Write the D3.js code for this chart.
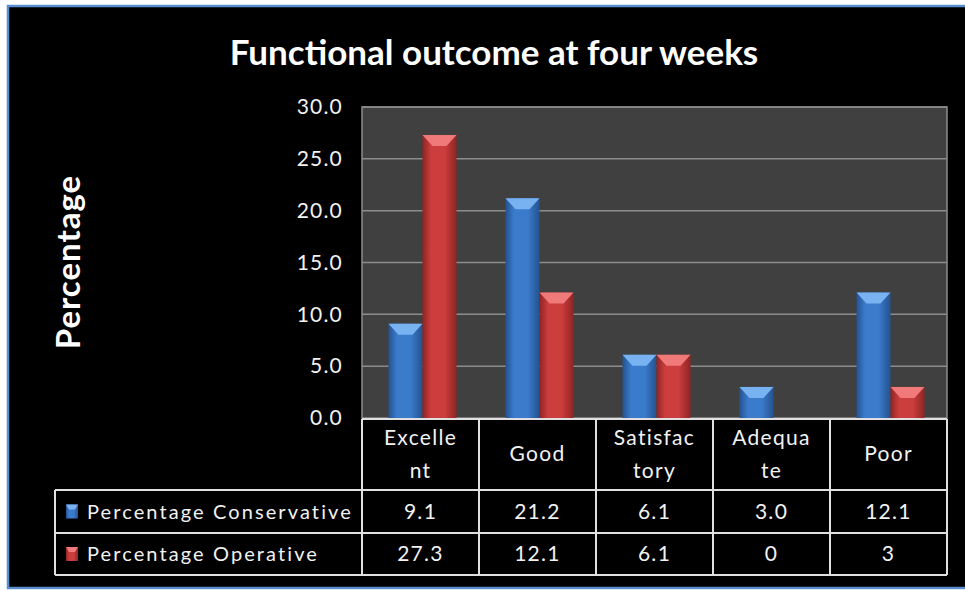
<!DOCTYPE html>
<html>
<head>
<meta charset="utf-8">
<script src="https://cdn.jsdelivr.net/npm/d3@7"></script>
<style>
  html, body { margin: 0; padding: 0; background: #fff; }
  svg { display: block; }
  text { font-family: Lato, 'Open Sans', sans-serif; fill: #f2f2f2; }
</style>
</head>
<body>
<svg id="chart" width="965" height="590"></svg>
<script>
// data
const categories = ['Excellent', 'Good', 'Satisfactory', 'Adequate', 'Poor']
const categoryLines = [['Excelle', 'nt'], ['Good'], ['Satisfac', 'tory'], ['Adequa', 'te'], ['Poor']]
const seriesNames = ['Percentage Conservative', 'Percentage Operative']
const conservative = [9.1, 21.2, 6.1, 3.0, 12.1]
const operative = [27.3, 12.1, 6.1, 0, 3]
const conservativeLabels = ['9.1', '21.2', '6.1', '3.0', '12.1']
const operativeLabels = ['27.3', '12.1', '6.1', '0', '3']
const yTicks = [0, 5, 10, 15, 20, 25, 30]

const width = 965
const height = 590

const plot = { left: 362, right: 947, top: 107, bottom: 418 }
const table = { left: 55, headerBottom: 490, row1Bottom: 533, bottom: 575 }

const colors = {
  [seriesNames[0]]: { base: '#3b7bcc', light: '#79b2f0', dark: '#24528f' },
  [seriesNames[1]]: { base: '#cc3d3d', light: '#f07a7a', dark: '#8f2424' },
}

const svg = d3.select('#chart')

// gradients for the bevelled bars
const defs = svg.append('defs')
seriesNames.forEach((s, i) => {
  const g = defs
    .append('linearGradient')
    .attr('id', 'grad' + i)
    .attr('x1', '0%')
    .attr('x2', '100%')
  g.append('stop').attr('offset', '0%').attr('stop-color', colors[s].dark)
  g.append('stop').attr('offset', '25%').attr('stop-color', colors[s].base)
  g.append('stop').attr('offset', '65%').attr('stop-color', colors[s].base)
  g.append('stop').attr('offset', '100%').attr('stop-color', colors[s].dark)
})

// background + frame
svg.append('rect').attr('width', width).attr('height', height).attr('fill', '#fff')
svg
  .append('rect')
  .attr('x', 8)
  .attr('y', 6)
  .attr('width', width + 10)
  .attr('height', 582)
  .attr('fill', '#000')
  .attr('stroke', '#5b8ed0')
  .attr('stroke-width', 2.5)

// title
svg
  .append('text')
  .attr('x', 494)
  .attr('y', 65)
  .attr('text-anchor', 'middle')
  .attr('font-size', 35)
  .attr('font-weight', 'bold')
  .style('fill', '#fff')
  .text('Functional outcome at four weeks')

// scales
const x0 = d3.scaleBand().domain(categories).range([plot.left, plot.right])
const x1 = d3
  .scaleBand()
  .domain(seriesNames)
  .range([2, x0.bandwidth() + 2])
  .paddingInner(0)
  .paddingOuter(0.72)
const y = d3.scaleLinear().domain([0, 30]).range([plot.bottom, plot.top])

// plot area
svg
  .append('rect')
  .attr('x', plot.left)
  .attr('y', plot.top)
  .attr('width', plot.right - plot.left)
  .attr('height', plot.bottom - plot.top)
  .attr('fill', '#404040')
  .attr('stroke', '#8c8c8c')
  .attr('stroke-width', 1.5)

// gridlines
svg
  .append('g')
  .attr('id', 'grid')
  .selectAll('line')
  .data(yTicks.slice(1))
  .join('line')
  .attr('x1', plot.left)
  .attr('x2', plot.right)
  .attr('y1', (d) => y(d))
  .attr('y2', (d) => y(d))
  .attr('stroke', '#8c8c8c')
  .attr('stroke-width', 1.5)

// y axis labels
const yAxis = svg
  .append('g')
  .attr('transform', `translate(${plot.left - 19},0)`)
  .call(d3.axisLeft(y).tickValues(yTicks).tickFormat(d3.format('.1f')).tickSize(0).tickPadding(0))
yAxis.select('.domain').remove()
yAxis
  .selectAll('text')
  .attr('font-size', 21)
  .attr('letter-spacing', 1.2)
  .attr('font-family', 'Lato, sans-serif')
  .style('fill', '#f2f2f2')

// y title
svg
  .append('text')
  .attr('transform', 'translate(80,262) rotate(-90)')
  .attr('text-anchor', 'middle')
  .attr('font-size', 33)
  .attr('font-weight', 'bold')
  .attr('letter-spacing', 1)
  .style('fill', '#fff')
  .text('Percentage')

// bars
const seriesValues = [conservative, operative]
const barGroups = svg
  .append('g')
  .attr('id', 'bars')
  .selectAll('g')
  .data(seriesNames)
  .join('g')

barGroups.each(function (s, si) {
  const g = d3.select(this)
  const rows = categories.map((c, i) => ({ c, v: seriesValues[si][i] })).filter((d) => d.v > 0)
  g.selectAll('rect')
    .data(rows)
    .join('rect')
    .attr('x', (d) => x0(d.c) + x1(s))
    .attr('y', (d) => y(d.v))
    .attr('width', x1.bandwidth())
    .attr('height', (d) => y(0) - y(d.v))
    .attr('fill', `url(#grad${si})`)
  // bevelled top
  g.selectAll('path')
    .data(rows)
    .join('path')
    .attr('d', (d) => {
      const bx = x0(d.c) + x1(s)
      const by = y(d.v)
      const w = x1.bandwidth()
      return `M${bx},${by}L${bx + w},${by}L${bx + w - 10},${by + 11}L${bx + 10},${by + 11}Z`
    })
    .attr('fill', colors[s].light)
})

// data table
const tableG = svg.append('g').attr('id', 'table')
const lineColor = '#e0e0e0'
const hline = (x1p, x2p, yp) =>
  tableG
    .append('line')
    .attr('x1', x1p)
    .attr('x2', x2p)
    .attr('y1', yp)
    .attr('y2', yp)
    .attr('stroke', lineColor)
    .attr('stroke-width', 2)
const vline = (xp, y1p, y2p) =>
  tableG
    .append('line')
    .attr('x1', xp)
    .attr('x2', xp)
    .attr('y1', y1p)
    .attr('y2', y2p)
    .attr('stroke', lineColor)
    .attr('stroke-width', 2)

hline(plot.left, plot.right, plot.bottom + 1)
hline(table.left, plot.right, table.headerBottom)
hline(table.left, plot.right, table.row1Bottom)
hline(table.left, plot.right, table.bottom)
vline(table.left, table.headerBottom, table.bottom)
categories.forEach((c) => vline(x0(c), plot.bottom + 1, table.bottom))
vline(plot.right, plot.bottom + 1, table.bottom)

// header labels
categories.forEach((c, i) => {
  const lines = categoryLines[i]
  const cy = (plot.bottom + table.headerBottom) / 2
  lines.forEach((l, li) => {
    tableG
      .append('text')
      .attr('x', x0(c) + x0.bandwidth() / 2)
      .attr('y', cy + (li - (lines.length - 1) / 2) * 33)
      .attr('dy', '0.35em')
      .attr('text-anchor', 'middle')
      .attr('font-size', 21)
      .attr('letter-spacing', 1.3)
      .text(l)
  })
})

// data rows
const rowLabels = [conservativeLabels, operativeLabels]
const rowCenters = [
  (table.headerBottom + table.row1Bottom) / 2,
  (table.row1Bottom + table.bottom) / 2,
]
seriesNames.forEach((s, si) => {
  const cy = rowCenters[si]
  tableG
    .append('rect')
    .attr('x', 66)
    .attr('y', cy - 7)
    .attr('width', 12)
    .attr('height', 14)
    .attr('fill', `url(#grad${si})`)
  tableG
    .append('path')
    .attr('d', `M66,${cy - 7}L78,${cy - 7}L75,${cy - 2}L69,${cy - 2}Z`)
    .attr('fill', colors[s].light)
  tableG
    .append('text')
    .attr('x', 87)
    .attr('y', cy)
    .attr('dy', '0.35em')
    .attr('font-size', 20)
    .attr('letter-spacing', 2.1)
    .text(s)
  categories.forEach((c, i) => {
    tableG
      .append('text')
      .attr('x', x0(c) + x0.bandwidth() / 2)
      .attr('y', cy)
      .attr('dy', '0.35em')
      .attr('text-anchor', 'middle')
      .attr('font-size', 21)
      .attr('letter-spacing', 1.3)
      .text(rowLabels[si][i])
  })
})
</script>
</body>
</html>
